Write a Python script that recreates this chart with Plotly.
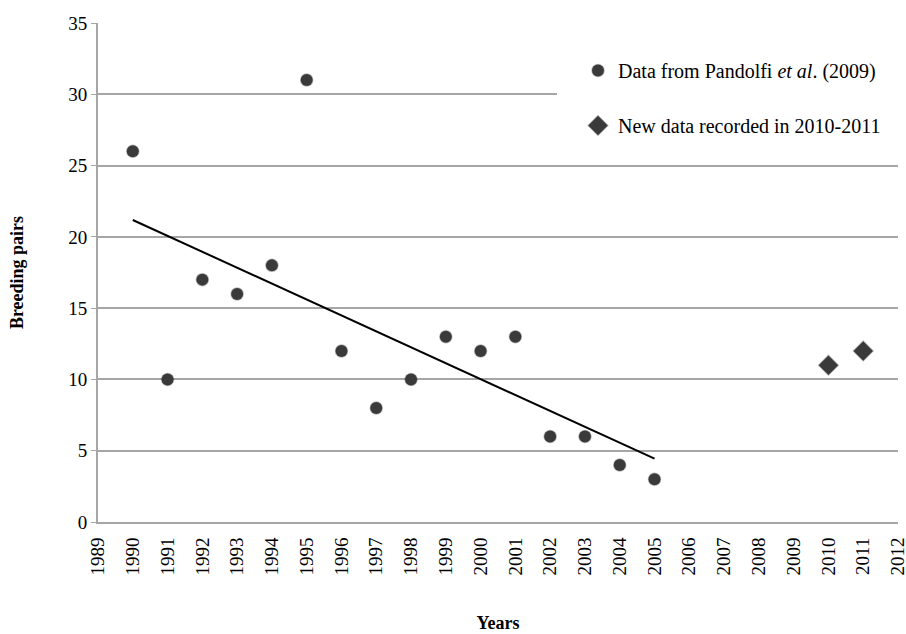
import numpy as np
import plotly.graph_objects as go

# Data
years_old = [1990, 1991, 1992, 1993, 1994, 1995, 1996, 1997, 1998, 1999, 2000, 2001, 2002, 2003, 2004, 2005]
pairs_old = [26, 10, 17, 16, 18, 31, 12, 8, 10, 13, 12, 13, 6, 6, 4, 3]
years_new = [2010, 2011]
pairs_new = [11, 12]
x_ticks = list(range(1989, 2013))
y_ticks = [0, 5, 10, 15, 20, 25, 30, 35]

# Linear trend through the Pandolfi et al. data
slope, intercept = np.polyfit(years_old, pairs_old, 1)
trend_x = [years_old[0], years_old[-1]]
trend_y = [slope * v + intercept for v in trend_x]

FONT = "Liberation Serif"
GRID = "#a6a6a6"
MARK = "#3a3a3a"

FW, FH = 906, 634
L, T, W, H = 98, 23, 800, 499

fig = go.Figure()

fig.add_trace(go.Scatter(
    x=trend_x, y=trend_y, mode="lines",
    line=dict(color="black", width=2),
    showlegend=False, hoverinfo="skip"))

fig.add_trace(go.Scatter(
    x=years_old, y=pairs_old, mode="markers",
    name="Data from Pandolfi <i>et al</i>. (2009)",
    legendgroup="a",
    marker=dict(symbol="circle", size=12, color=MARK,
                line=dict(color="rgba(60,60,60,0.35)", width=1.5))))

fig.add_trace(go.Scatter(
    x=years_new, y=pairs_new, mode="markers",
    name="New data recorded in 2010-2011",
    legendgroup="b",
    marker=dict(symbol="diamond", size=15, color=MARK,
                line=dict(color="rgba(60,60,60,0.35)", width=1.5))))

# white box behind the legend (covers gridline like the original)
fig.add_shape(type="rect", xref="paper", yref="paper",
              x0=(557 - L) / W, x1=1.0,
              y0=1 - (150 - T) / H, y1=1 - (45 - T) / H,
              fillcolor="white", line=dict(width=0), layer="above")

fig.update_layout(
    width=FW, height=FH,
    margin=dict(l=L, r=FW - L - W, t=T, b=FH - T - H, autoexpand=False),
    paper_bgcolor="white", plot_bgcolor="white",
    font=dict(family=FONT, size=19, color="black"),
    legend=dict(
        x=(578 - L) / W, y=1 - (51 - T) / H,
        xanchor="left", yanchor="top",
        bgcolor="rgba(255,255,255,0)",
        font=dict(family=FONT, size=20, color="black"),
        tracegroupgap=26,
    ),
)

fig.update_xaxes(
    range=[1989, 2012], tickmode="array", tickvals=x_ticks,
    ticktext=[str(v) for v in x_ticks], tickangle=-90,
    showgrid=False, zeroline=False, automargin=False,
    showline=True, linecolor=GRID, linewidth=2,
    ticks="", ticklabelstandoff=6, ticklabeloverflow="allow",
    tickfont=dict(family=FONT, size=19),
    title=dict(text="<b>Years</b>", font=dict(family=FONT, size=18), standoff=42),
)

fig.update_yaxes(
    range=[0, 35], tickmode="array", tickvals=y_ticks,
    showgrid=True, gridcolor=GRID, gridwidth=1.5, zeroline=False, automargin=False,
    showline=True, linecolor=GRID, linewidth=2,
    ticks="outside", ticklen=5, tickcolor=GRID,
    tickfont=dict(family=FONT, size=19),
    title=dict(text="<b>Breeding pairs</b>", font=dict(family=FONT, size=18), standoff=40),
)

fig.write_html(
    "out.html",
    config={"displayModeBar": False},
    post_script="document.body.style.margin='0';document.body.style.overflow='hidden';",
)
